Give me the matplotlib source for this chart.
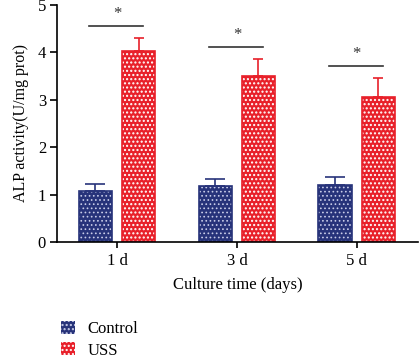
import matplotlib
matplotlib.use("Agg")
import matplotlib.pyplot as plt
import numpy as np

# values
days = ["1 d", "3 d", "5 d"]
control = [1.08, 1.17, 1.20]
control_err = [0.15, 0.15, 0.18]
uss = [4.03, 3.50, 3.06]
uss_err = [0.27, 0.36, 0.40]
sig_height = [4.56, 4.11, 3.71]

plt.rcParams['font.family'] = ['Liberation Serif', 'DejaVu Serif']

navy = '#27337a'
red = '#e8202a'

fig = plt.figure(figsize=(4.2, 3.61), dpi=100)
ax = fig.add_axes([0.136, 0.330, 0.859, 0.656])

x = np.arange(len(days))
w = 0.28
off = 0.18

# control: navy with small white dots
with plt.rc_context({'hatch.linewidth': 0.7}):
    b1 = ax.bar(x - off, control, w, color=navy, edgecolor='#c8cce8', hatch='....', lw=0)
ax.bar(x - off, control, w, fill=False, edgecolor=navy, lw=1.2)
ax.errorbar(x - off, control, yerr=[np.zeros(3), control_err], fmt='none',
            ecolor=navy, elinewidth=1.2, capsize=7, capthick=1.2)

# USS: red checker
with plt.rc_context({'hatch.linewidth': 1.0}):
    b2 = ax.bar(x + off, uss, w, color=red, edgecolor='white', hatch='....', lw=0)
ax.bar(x + off, uss, w, fill=False, edgecolor=red, lw=1.2)
ax.errorbar(x + off, uss, yerr=[np.zeros(3), uss_err], fmt='none',
            ecolor=red, elinewidth=1.2, capsize=3.3, capthick=1.2)

# significance marks
for xi, h in zip(x, sig_height):
    ax.plot([xi - 0.23, xi + 0.22], [h, h], color='#333333', lw=1.2)
    ax.text(xi, h + 0.08, '*', ha='center', va='bottom', fontsize=12, color='#333333')

ax.set_xlim(-0.5, 2.51)
ax.set_ylim(0, 5)
ax.set_yticks([0, 1, 2, 3, 4, 5])
ax.set_xticks(x)
ax.set_xticklabels(days)
ax.tick_params(axis='both', labelsize=12, width=1.2)
ax.tick_params(axis='y', length=5, pad=3)
ax.tick_params(axis='x', length=4, pad=4)
for s in ['top', 'right']:
    ax.spines[s].set_visible(False)
for s in ['left', 'bottom']:
    ax.spines[s].set_linewidth(1.2)

ax.set_xlabel('Culture time (days)', fontsize=12, labelpad=6)
ax.set_ylabel('ALP activity(U/mg prot)', fontsize=11.5, labelpad=6)

fig.legend([b1, b2], ['Control', 'USS'], loc='lower left',
           bbox_to_anchor=(0.11, -0.035), frameon=False, fontsize=12,
           handlelength=0.8, handleheight=0.8, labelspacing=0.3, handletextpad=0.8)

fig.savefig('out.png', dpi=100)
